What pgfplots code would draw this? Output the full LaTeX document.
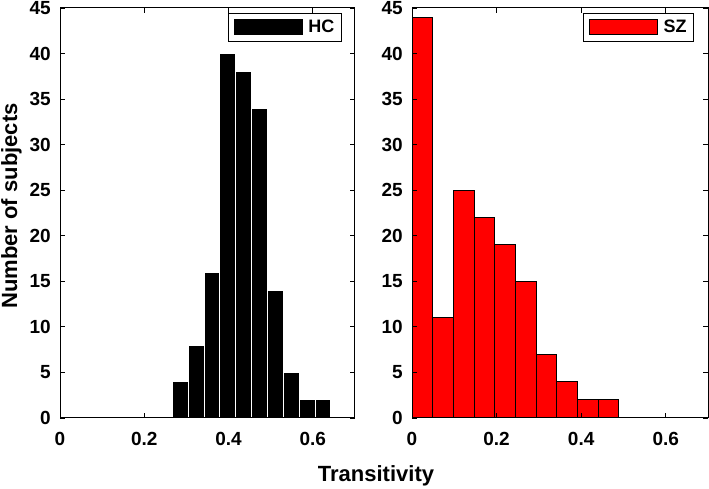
\documentclass[border=0pt]{standalone}
\usepackage{pgfplots}
\pgfplotsset{compat=1.18}
\usepackage{fontspec}
\setmainfont{Liberation Sans}

\pgfplotstableread{
x y
0.2666 4
0.3042 8
0.3418 16
0.3794 40
0.4170 38
0.4546 34
0.4922 14
0.5298 5
0.5674 2
0.6050 2
0.6426 2
}\hcdata

\pgfplotstableread{
x y
0.0000 44
0.0489 11
0.0977 25
0.1466 22
0.1954 19
0.2443 15
0.2931 7
0.3420 4
0.3908 2
0.4397 2
0.4885 2
}\szdata

\begin{document}
\begin{tikzpicture}[x=1pt,y=1pt]
\useasboundingbox (0,0) rectangle (709,489);
\pgfplotsset{
 hist/.style={
   scale only axis, height=410pt, anchor=south west,
   xmin=0, xmax=0.7, ymin=0, ymax=45,
   xtick={0,0.2,0.4,0.6}, xticklabels={0,0.2,0.4,0.6},
   ytick={0,5,...,45},
   tick align=inside, major tick length=5pt,
   axis on top,
   axis line style={line width=1pt},
   every tick/.style={black, line width=0.8pt},
   /pgf/number format/assume math mode=true,
   ticklabel style={font=\bfseries\fontsize{19}{19}\selectfont, inner sep=0pt},
   yticklabel style={anchor=east, xshift=-9pt},
   xticklabel style={anchor=north, yshift=-14pt},
   legend cell align=left,
   legend style={draw=black, line width=1.1pt,
     font=\bfseries\fontsize{18}{18}\selectfont,
     anchor=north east, inner xsep=5pt, inner ysep=6pt,
     nodes={inner xsep=2pt, inner ysep=0pt},
     /tikz/every odd column/.style={column sep=4pt}},
 }
}
\begin{axis}[hist, width=295pt, at={(60pt,71pt)},
  legend style={at={(0.956,0.988)}}]
\addplot[ybar interval, fill=black, draw=white, line width=0.8pt,
  legend image code/.code={\fill[black] (0pt,-7.5pt) rectangle (68pt,7.5pt);}]
  table[x=x,y=y] {\hcdata};
\addlegendentry{HC}
\end{axis}
\begin{axis}[hist, width=296pt, at={(412pt,71pt)},
  legend style={at={(0.953,0.988)}}]
\addplot[ybar interval, fill=red, draw=black, line width=0.8pt,
  legend image code/.code={\draw[fill=red, draw=black, line width=0.8pt] (0pt,-7.5pt) rectangle (68pt,7.5pt);}]
  table[x=x,y=y] {\szdata};
\addlegendentry{SZ}
\end{axis}
\node[rotate=90, anchor=base, font=\bfseries\fontsize{22}{22}\selectfont] at (17,283) {Number of subjects};
\node[anchor=base, font=\bfseries\fontsize{22}{22}\selectfont] at (376,7) {Transitivity};
\end{tikzpicture}
\end{document}
